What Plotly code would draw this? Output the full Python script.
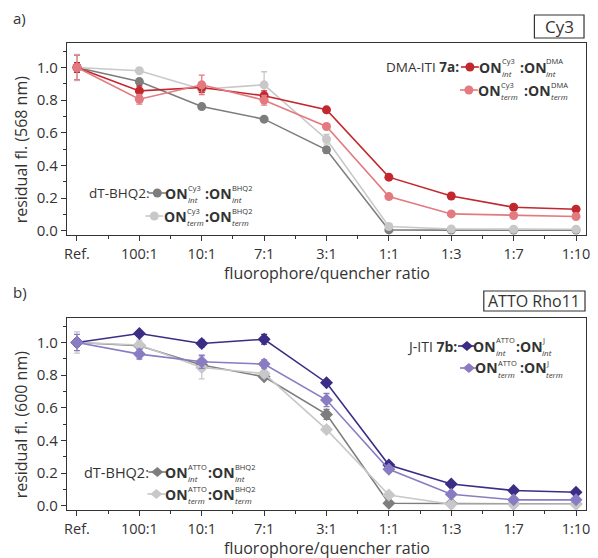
import plotly.graph_objects as go

ratios = ["Ref.", "100:1", "10:1", "7:1", "3:1", "1:1", "1:3", "1:7", "1:10"]

# Panel a (Cy3, 568 nm)
a_bhq2_int = [1.00, 0.914, 0.761, 0.684, 0.496, 0.006, 0.005, 0.005, 0.005]
a_bhq2_int_err = [0.02, 0.015, 0.012, 0.012, 0.02, 0.005, 0.003, 0.003, 0.003]
a_bhq2_term = [1.00, 0.980, 0.867, 0.894, 0.561, 0.027, 0.012, 0.010, 0.010]
a_bhq2_term_err = [0.08, 0.015, 0.02, 0.08, 0.03, 0.01, 0.005, 0.005, 0.005]
a_dma_int = [1.00, 0.857, 0.878, 0.827, 0.741, 0.329, 0.214, 0.145, 0.133]
a_dma_int_err = [0.03, 0.03, 0.03, 0.03, 0.012, 0.01, 0.008, 0.008, 0.008]
a_dma_term = [1.00, 0.806, 0.894, 0.800, 0.639, 0.210, 0.104, 0.094, 0.088]
a_dma_term_err = [0.075, 0.03, 0.06, 0.03, 0.015, 0.01, 0.006, 0.006, 0.006]

# Panel b (ATTO Rho11, 600 nm)
b_bhq2_int = [1.00, 0.980, 0.862, 0.790, 0.560, 0.016, 0.015, 0.012, 0.012]
b_bhq2_int_err = [0.02, 0.02, 0.03, 0.015, 0.03, 0.005, 0.004, 0.004, 0.004]
b_bhq2_term = [1.00, 0.985, 0.847, 0.810, 0.468, 0.067, 0.010, 0.010, 0.010]
b_bhq2_term_err = [0.065, 0.03, 0.07, 0.02, 0.02, 0.01, 0.004, 0.004, 0.004]
b_j_int = [1.00, 1.055, 0.994, 1.020, 0.754, 0.250, 0.134, 0.094, 0.084]
b_j_int_err = [0.02, 0.015, 0.02, 0.03, 0.015, 0.01, 0.008, 0.008, 0.008]
b_j_term = [1.00, 0.929, 0.882, 0.868, 0.648, 0.224, 0.071, 0.037, 0.037]
b_j_term_err = [0.05, 0.03, 0.04, 0.025, 0.04, 0.015, 0.008, 0.006, 0.006]

C_DGRAY = "#7d7d7d"
C_LGRAY = "#c8c8c8"
C_RED = "#c1272d"
C_PINK = "#e37a80"
C_NAVY = "#3a2d86"
C_PURP = "#8a7cc2"
AXC = "#333333"
FONT = "Open Sans"

# The page body adds an 8px margin; the figure is sized so that
# figure + margin fills the 598x558 window exactly.
OFF = 8
W, H = 598 - OFF, 558 - OFF
# plot area in window pixels: x 67..590, panels y 43..235 and 318..510
ML = 67 - OFF
MR = W - (590 - OFF)
MT = 43 - OFF
MB = H - (510 - OFF)
PW, PH = W - ML - MR, H - MT - MB


def px(x):
    """window pixel x -> paper"""
    return (x - OFF - ML) / PW


def py(y):
    """window pixel y -> paper"""
    return (H - MB - (y - OFF)) / PH


idx = list(range(len(ratios)))
fig = go.Figure()


def add_series(y, err, color, symbol, size, xa, ya):
    fig.add_trace(go.Scatter(
        x=idx, y=y, mode="lines+markers", xaxis=xa, yaxis=ya,
        line=dict(color=color, width=1.6),
        marker=dict(color=color, symbol=symbol, size=size),
        error_y=dict(type="data", array=err, color=color, thickness=1.3, width=3),
        showlegend=False, hoverinfo="skip"))


add_series(a_bhq2_int, a_bhq2_int_err, C_DGRAY, "circle", 9, "x", "y")
add_series(a_bhq2_term, a_bhq2_term_err, C_LGRAY, "circle", 9, "x", "y")
add_series(a_dma_int, a_dma_int_err, C_RED, "circle", 9, "x", "y")
add_series(a_dma_term, a_dma_term_err, C_PINK, "circle", 9, "x", "y")

add_series(b_bhq2_int, b_bhq2_int_err, C_DGRAY, "diamond", 10, "x2", "y2")
add_series(b_bhq2_term, b_bhq2_term_err, C_LGRAY, "diamond", 10, "x2", "y2")
add_series(b_j_int, b_j_int_err, C_NAVY, "diamond", 10, "x2", "y2")
add_series(b_j_term, b_j_term_err, C_PURP, "diamond", 10, "x2", "y2")

XR = [-0.16, len(ratios) - 1 + 0.16]
YR = [-0.025, 1.15]
ytv = [0.0, 0.2, 0.4, 0.6, 0.8, 1.0]
minor_x = [i + 0.5 for i in idx[:-1]]

dom_a = [py(235), py(43)]
dom_b = [py(510), py(318)]

xbase = dict(range=XR, tickmode="array", tickvals=idx, ticktext=ratios,
             ticks="outside", ticklen=5, tickwidth=1.2, tickcolor=AXC,
             showline=True, linecolor=AXC, linewidth=1.3, mirror=True,
             showgrid=False, zeroline=False,
             tickfont=dict(family=FONT, size=14.5, color=AXC),
             minor=dict(tickmode="array", tickvals=minor_x, ticks="outside",
                        ticklen=3, tickcolor=AXC, tickwidth=1.1))
ybase = dict(range=YR, tickmode="array", tickvals=ytv, tickformat=".1f",
             ticks="outside", ticklen=5, tickwidth=1.2, tickcolor=AXC,
             showline=True, linecolor=AXC, linewidth=1.3, mirror=True,
             showgrid=False, zeroline=False,
             tickfont=dict(family=FONT, size=15, color=AXC),
             minor=dict(dtick=0.1, ticks="outside", ticklen=3,
                        tickcolor=AXC, tickwidth=1.1))

xtop = dict(range=XR, tickmode="array", tickvals=idx, showticklabels=False,
            ticks="inside", ticklen=5, tickwidth=1.2, tickcolor=AXC,
            showline=False, showgrid=False, zeroline=False, side="top",
            minor=dict(tickmode="array", tickvals=minor_x, ticks="inside",
                       ticklen=3, tickcolor=AXC, tickwidth=1.1))
yright = dict(range=YR, tickmode="array", tickvals=ytv, showticklabels=False,
              ticks="inside", ticklen=5, tickwidth=1.2, tickcolor=AXC,
              showline=False, showgrid=False, zeroline=False, side="right",
              minor=dict(dtick=0.1, ticks="inside", ticklen=3,
                         tickcolor=AXC, tickwidth=1.1))

fig.update_layout(
    width=W, height=H, margin=dict(l=ML, r=MR, t=MT, b=MB),
    paper_bgcolor="white", plot_bgcolor="white",
    font=dict(family=FONT, color=AXC),
    xaxis=dict(**xbase, domain=[0, 1], anchor="y"),
    yaxis=dict(**ybase, domain=dom_a, anchor="x"),
    xaxis2=dict(**xbase, domain=[0, 1], anchor="y2"),
    yaxis2=dict(**ybase, domain=dom_b, anchor="x2"),
    xaxis3=dict(**xtop, overlaying="x", anchor="y"),
    yaxis3=dict(**yright, overlaying="y", anchor="x"),
    xaxis4=dict(**xtop, overlaying="x2", anchor="y2"),
    yaxis4=dict(**yright, overlaying="y2", anchor="x2"),
)

ann = []
shapes = []


def text(x, y, s, size=14, xanchor="left", yanchor="middle", **kw):
    color = kw.pop("color", AXC)
    ann.append(dict(x=px(x), y=py(y), xref="paper", yref="paper", text=s,
                    showarrow=False, xanchor=xanchor, yanchor=yanchor,
                    font=dict(family=FONT, size=size, color=color), **kw))


def box(x0, y0, x1, y1):
    shapes.append(dict(type="rect", xref="paper", yref="paper",
                       x0=px(x0), x1=px(x1), y0=py(y1), y1=py(y0),
                       line=dict(color=AXC, width=1.2), fillcolor="white"))


# panel labels, axis titles, dye boxes
text(11, 18, "a)", size=15)
text(11, 292, "b)", size=15)
text(21, 149, "residual fl. (568 nm)", size=16, xanchor="center", textangle=-90)
text(21, 424, "residual fl. (600 nm)", size=16, xanchor="center", textangle=-90)
text(329, 273, "fluorophore/quencher ratio", size=16, xanchor="center", borderpad=0)
text(329, 547.5, "fluorophore/quencher ratio", size=16, xanchor="center", borderpad=0)
box(538, 15, 588, 38)
text(563, 26.5, "Cy3", size=17, xanchor="center")
box(487, 291, 589, 311)
text(538, 301, "ATTO Rho11", size=16, xanchor="center")


def key(xc, y, color, symbol):
    shapes.append(dict(type="line", xref="paper", yref="paper",
                       x0=px(xc - 9), x1=px(xc + 9), y0=py(y), y1=py(y),
                       line=dict(color=color, width=1.6)))
    if symbol == "circle":
        shapes.append(dict(type="circle", xref="paper", yref="paper",
                           xsizemode="pixel", ysizemode="pixel",
                           xanchor=px(xc), yanchor=py(y),
                           x0=-4.5, x1=4.5, y0=-4.5, y1=4.5,
                           fillcolor=color, line=dict(color=color, width=0)))
    else:
        shapes.append(dict(type="path", xref="paper", yref="paper",
                           xsizemode="pixel", ysizemode="pixel",
                           xanchor=px(xc), yanchor=py(y),
                           path="M -6 0 L 0 5 L 6 0 L 0 -5 Z",
                           fillcolor=color, line=dict(color=color, width=0)))


def entry(y, xc, color, symbol, x_on1, sup1, sub1, x_on2, sup2, sub2):
    key(xc, y, color, symbol)
    x_ss1 = x_on1 + 23
    x_ss2 = x_on2 + 27
    text(x_on1, y, "<b>ON</b>", size=14, borderpad=0)
    text(x_ss1, y - 5.5, sup1, size=7.5, borderpad=0)
    text(x_ss1, y + 6.5, "<i>%s</i>" % sub1, size=8, borderpad=0)
    text(x_on2, y, "<b>:ON</b>", size=14, borderpad=0)
    text(x_ss2, y - 5.5, sup2, size=7.5, borderpad=0)
    text(x_ss2, y + 6.5, "<i>%s</i>" % sub2, size=8, borderpad=0)


# Panel a legends
text(463, 67, "DMA-ITI <b>7a:</b>", size=13.5, xanchor="right", borderpad=0)
entry(67, 473, C_RED, "circle", 481, "Cy3", "int", 522, "DMA", "int")
entry(90, 472, C_PINK, "circle", 480, "Cy3", "term", 527, "DMA", "term")
text(151, 193, "dT-BHQ2:", size=13.5, xanchor="right", borderpad=0)
entry(193, 158, C_DGRAY, "circle", 165, "Cy3", "int", 205, "BHQ2", "int")
entry(216, 155, C_LGRAY, "circle", 164, "Cy3", "term", 205, "BHQ2", "term")

# Panel b legends
text(461, 346, "J-ITI <b>7b:</b>", size=14, xanchor="right", borderpad=0)
entry(346, 470, C_NAVY, "diamond", 475, "ATTO", "int", 518, "J", "int")
entry(368, 472, C_PURP, "diamond", 477, "ATTO", "term", 522, "J", "term")
text(151, 472, "dT-BHQ2:", size=14.5, xanchor="right", borderpad=0)
entry(472, 158, C_DGRAY, "diamond", 165, "ATTO", "int", 208, "BHQ2", "int")
entry(494, 157, C_LGRAY, "diamond", 165, "ATTO", "term", 208, "BHQ2", "term")

fig.update_layout(annotations=ann, shapes=shapes)
fig.write_html("out.html")
